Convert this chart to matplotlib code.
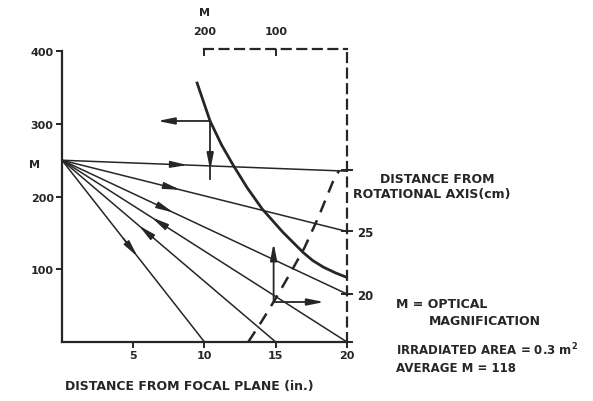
import numpy as np
import matplotlib.pyplot as plt

# fan of lines starting at (0, 250)
fan_x0, fan_y0 = 0, 250
fan_end_x = [20, 20, 20, 20, 15, 10]
fan_end_y = [235, 152, 66, 0, 0, 0]
arrow_at = [8.3, 7.8, 7.3, 6.8, 5.9, 4.8]  # x where arrowhead sits
arrow_dir = [1, 1, 1, -1, -1, 1]            # +1 away from origin, -1 toward it

# thick solid curve
curve_x = [9.45, 10.39, 11.2, 12.02, 13.0, 14.05, 15.5, 16.93, 17.6, 18.34, 19.2, 19.98]
curve_y = [358, 304, 271, 243, 212, 183, 151, 123, 112, 103, 95, 89]

# dashed curve
dash_x = [13.07, 14.0, 15.0, 16.0, 17.0, 18.0, 19.0, 19.45]
dash_y = [0, 28, 60, 94, 129, 172, 220, 236]

# right axis (distance from rotational axis)
right_ticks = [236, 152, 66, 0]
right_labels = ["", "25", "20", ""]

ink = "#262626"
fnt = dict(family="DejaVu Sans", weight="bold", color=ink)

fig = plt.figure(figsize=(5.93, 4.02), dpi=100)
ax = fig.add_axes([62 / 593, 59 / 402, 285 / 593, 293 / 402])
ax.set_xlim(0, 20)
ax.set_ylim(0, 403)

for s in ["left", "bottom"]:
    ax.spines[s].set_linewidth(1.6)
    ax.spines[s].set_color(ink)
ax.spines["left"].set_bounds(0, 400)
for s in ["top", "right"]:
    ax.spines[s].set_linewidth(1.6)
    ax.spines[s].set_color(ink)
    ax.spines[s].set_linestyle((0, (4, 3)))
ax.spines["top"].set_bounds(10, 20)

ax.set_xticks([5, 10, 15, 20])
ax.set_yticks([100, 200, 300, 400])
ax.tick_params(direction="out", length=4, width=1.4, color=ink, labelsize=8, pad=2)
for lab in ax.get_xticklabels() + ax.get_yticklabels():
    lab.set_fontweight("bold")
    lab.set_color(ink)

# top M axis
top = ax.secondary_xaxis("top", functions=(lambda x: 20 * (20 - x), lambda m: 20 - m / 20))
top.set_xticks([200, 100])
top.spines["top"].set_visible(False)
top.tick_params(direction="in", length=5, width=1.4, color=ink, labelsize=8, pad=9)
for lab in top.get_xticklabels():
    lab.set_fontweight("bold")
    lab.set_color(ink)
top.set_xlabel("M", fontsize=8, labelpad=8, **fnt)

# right distance axis
rgt = ax.secondary_yaxis("right")
rgt.set_yticks(right_ticks)
rgt.set_yticklabels(right_labels)
rgt.spines["right"].set_visible(False)
rgt.tick_params(direction="inout", length=8, width=1.4, color=ink, labelsize=8.5, pad=3)
for lab in rgt.get_yticklabels():
    lab.set_fontweight("bold")
    lab.set_color(ink)

head = "-|>,head_length=1.0,head_width=0.2"

# fan lines with arrowheads
for ex, ey, xa, d in zip(fan_end_x, fan_end_y, arrow_at, arrow_dir):
    ax.plot([fan_x0, ex], [fan_y0, ey], color=ink, lw=1.1, clip_on=False)
    slope = (ey - fan_y0) / (ex - fan_x0)
    ya = fan_y0 + slope * xa
    step = 0.5 * d
    ax.annotate("", xy=(xa + step, ya + slope * step), xytext=(xa - step, ya - slope * step),
                arrowprops=dict(arrowstyle=head, color=ink, lw=1.1, mutation_scale=10,
                                shrinkA=0, shrinkB=0))

# curves
ax.plot(curve_x, curve_y, color=ink, lw=2.0, solid_capstyle="butt")
ax.plot(dash_x, dash_y, color=ink, lw=1.8, linestyle=(0, (5, 3.5)))

# construction arrows
arrow_kw = dict(arrowstyle=head, color=ink, lw=1.3, mutation_scale=10, shrinkA=0, shrinkB=0)
ax.plot([10.4, 10.4], [304, 224], color=ink, lw=1.3)
ax.annotate("", xy=(10.4, 236), xytext=(10.4, 260), arrowprops=arrow_kw)
ax.annotate("", xy=(6.7, 304), xytext=(10.4, 304), arrowprops=arrow_kw)
ax.annotate("", xy=(14.85, 136), xytext=(14.85, 55), arrowprops=arrow_kw)
ax.annotate("", xy=(18.4, 55), xytext=(14.85, 55), arrowprops=arrow_kw)

# text
fig.text(35 / 593, 1 - 165 / 402, "M", fontsize=8, ha="center", va="center", **fnt)
fig.text(189 / 593, 1 - 387 / 402, "DISTANCE FROM FOCAL PLANE (in.)", fontsize=9,
         ha="center", va="center", **fnt)
fig.text(380 / 593, 1 - 180 / 402, "DISTANCE FROM", fontsize=9, va="center", **fnt)
fig.text(353 / 593, 1 - 195 / 402, "ROTATIONAL AXIS(cm)", fontsize=9, va="center", **fnt)
fig.text(396 / 593, 1 - 305 / 402, "M = OPTICAL", fontsize=9, va="center", **fnt)
fig.text(429 / 593, 1 - 322 / 402, "MAGNIFICATION", fontsize=9, va="center", **fnt)
fig.text(396 / 593, 1 - 350 / 402, "IRRADIATED AREA = 0.3 m$^\\mathbf{2}$", fontsize=8.5,
         va="center", **fnt)
fig.text(396 / 593, 1 - 368 / 402, "AVERAGE M = 118", fontsize=8.5, va="center", **fnt)

fig.savefig("out.png", dpi=100)
